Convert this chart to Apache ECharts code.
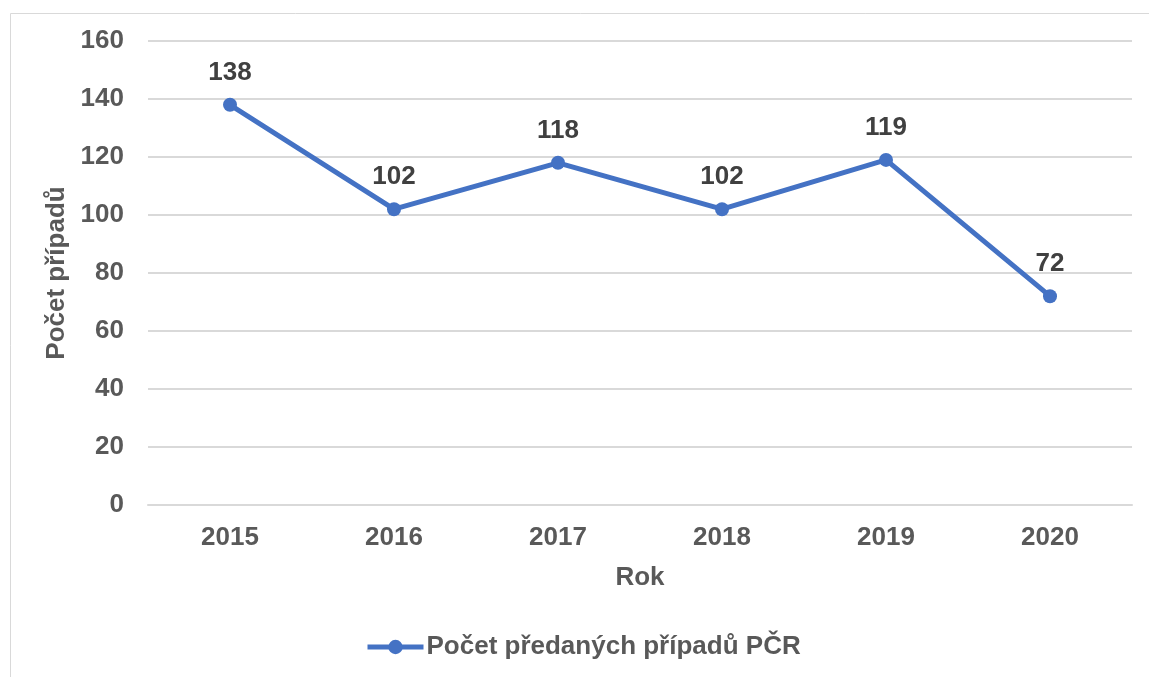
<!DOCTYPE html>
<html><head><meta charset="utf-8">
<script src="https://cdn.jsdelivr.net/npm/echarts@6/dist/echarts.min.js"></script>
<style>html,body{margin:0;padding:0;background:#fff}#c{width:1149px;height:677px}</style>
</head><body><div id="c"></div>
<script>
const categories = ['2015','2016','2017','2018','2019','2020'];
const values = [138, 102, 118, 102, 119, 72];
const seriesName = 'Počet předaných případů PČR';
const xName = 'Rok';
const yName = 'Počet případů';

const font = '"Liberation Sans", Arial, sans-serif';
const txt = '#595959';
const fs = 26;
const chart = echarts.init(document.getElementById('c'));
chart.setOption({
  animation: false,
  textStyle: {fontFamily: font},
  graphic: [{type:'rect', left: 8, top: 11, shape:{width: 1300, height: 800}, style:{fill:'none', stroke:'#d9d9d9', lineWidth:1}, z:-1}],
  grid: {left: 148, right: 17, top: 41, bottom: 172},
  legend: {
    bottom: 17, left: 365, itemWidth: 56, itemHeight: 18, itemGap: 4, padding: 0,
    lineStyle: {width: 5},
    textStyle: {color: txt, fontSize: fs, fontWeight: 'bold', fontFamily: font, padding: [0,0,0,-2]},
    data: [seriesName]
  },
  xAxis: {
    type: 'category', data: categories,
    name: xName, nameLocation: 'middle', nameGap: 60,
    nameTextStyle: {color: txt, fontSize: fs, fontWeight: 'bold'},
    axisLine: {lineStyle: {color: '#d9d9d9', width: 2}},
    axisTick: {show: false},
    axisLabel: {color: txt, fontSize: fs, fontWeight: 'bold', margin: 20}
  },
  yAxis: {
    type: 'value', min: 0, max: 160, interval: 20,
    name: yName, nameLocation: 'middle', nameGap: 72,
    nameTextStyle: {color: txt, fontSize: fs, fontWeight: 'bold'},
    axisLine: {show: false}, axisTick: {show: false},
    splitLine: {lineStyle: {color: '#d9d9d9', width: 2}},
    axisLabel: {color: txt, fontSize: fs, fontWeight: 'bold', margin: 24}
  },
  series: [{
    name: seriesName, type: 'line', data: values,
    symbol: 'circle', symbolSize: 14,
    lineStyle: {color: '#4472C4', width: 5},
    itemStyle: {color: '#4472C4'},
    label: {show: true, position: 'top', distance: 12, color: '#404040', fontSize: fs, fontWeight: 'bold'}
  }]
});
</script></body></html>
